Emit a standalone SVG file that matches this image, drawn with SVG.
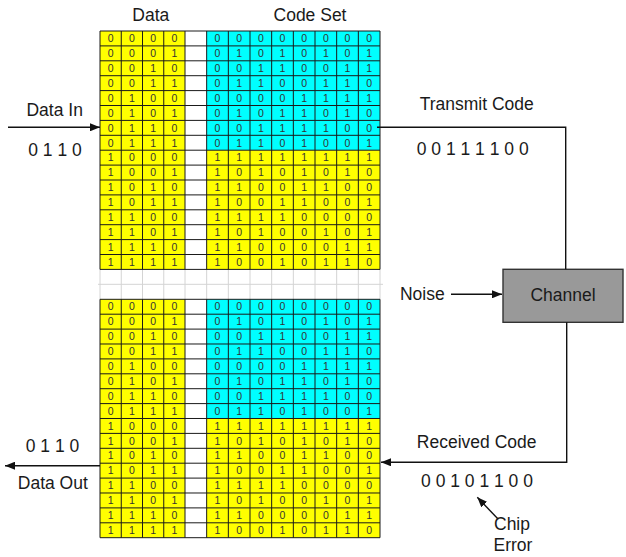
<svg xmlns="http://www.w3.org/2000/svg" width="626" height="557" viewBox="0 0 626 557">
<defs>
<style>
.lbl{font-family:"Liberation Sans",Arial,sans-serif;font-size:17.5px;fill:#1a1a1a}
.mid{text-anchor:middle}
.d{font-family:"Liberation Sans",Arial,sans-serif;font-size:10.5px;fill:#333;text-anchor:middle}
.grid{stroke:#1a1a1a;stroke-width:1;fill:none}
.lgrid{stroke:#d4d4d4;stroke-width:1;fill:none}
.wire{stroke:#111;stroke-width:1.4;fill:none}
.yel{fill:#ffff00}
.cya{fill:#00ffff}
</style>
<marker id="ah" viewBox="0 0 10 8" refX="10" refY="4" markerWidth="10" markerHeight="8" markerUnits="userSpaceOnUse" orient="auto">
<path d="M0,0 L10,4 L0,8 z" fill="#111"/>
</marker>
</defs>
<rect width="626" height="557" fill="#fff"/>

<text class="lbl mid" x="150.8" y="20.7">Data</text>
<text class="lbl mid" x="310" y="20.7">Code Set</text>

<g id="gapgrid">
<path class="lgrid" d="M98 284.3H383 M100 269.4V299.3 M121.25 269.4V299.3 M142.5 269.4V299.3 M163.75 269.4V299.3 M185 269.4V299.3 M206.67 269.4V299.3 M228.33 269.4V299.3 M250 269.4V299.3 M271.67 269.4V299.3 M293.33 269.4V299.3 M315 269.4V299.3 M336.67 269.4V299.3 M358.33 269.4V299.3 M380 269.4V299.3"/>
</g>

<g id="table-top">
<rect class="yel" x="100" y="31" width="85" height="238.4"/>
<rect class="cya" x="206.67" y="31" width="173.33" height="119.2"/>
<rect class="yel" x="206.67" y="150.2" width="173.33" height="119.2"/>
<path class="grid" d="M100 31H380M100 45.9H380M100 60.8H380M100 75.7H380M100 90.6H380M100 105.5H380M100 120.4H380M100 135.3H380M100 150.2H380M100 165.1H380M100 180H380M100 194.9H380M100 209.8H380M100 224.7H380M100 239.6H380M100 254.5H380M100 269.4H380 M100 31V269.4M121.25 31V269.4M142.5 31V269.4M163.75 31V269.4M185 31V269.4M206.67 31V269.4M228.33 31V269.4M250 31V269.4M271.67 31V269.4M293.33 31V269.4M315 31V269.4M336.67 31V269.4M358.33 31V269.4M380 31V269.4"/>
<text class="d" y="42.2" x="110.6 131.9 153.1 174.4 217.5 239.2 260.8 282.5 304.2 325.8 347.5 369.2">000000000000</text>
<text class="d" y="57.1" x="110.6 131.9 153.1 174.4 217.5 239.2 260.8 282.5 304.2 325.8 347.5 369.2">000101010101</text>
<text class="d" y="72" x="110.6 131.9 153.1 174.4 217.5 239.2 260.8 282.5 304.2 325.8 347.5 369.2">001000110011</text>
<text class="d" y="86.9" x="110.6 131.9 153.1 174.4 217.5 239.2 260.8 282.5 304.2 325.8 347.5 369.2">001101100110</text>
<text class="d" y="101.8" x="110.6 131.9 153.1 174.4 217.5 239.2 260.8 282.5 304.2 325.8 347.5 369.2">010000001111</text>
<text class="d" y="116.7" x="110.6 131.9 153.1 174.4 217.5 239.2 260.8 282.5 304.2 325.8 347.5 369.2">010101011010</text>
<text class="d" y="131.6" x="110.6 131.9 153.1 174.4 217.5 239.2 260.8 282.5 304.2 325.8 347.5 369.2">011000111100</text>
<text class="d" y="146.5" x="110.6 131.9 153.1 174.4 217.5 239.2 260.8 282.5 304.2 325.8 347.5 369.2">011101101001</text>
<text class="d" y="161.4" x="110.6 131.9 153.1 174.4 217.5 239.2 260.8 282.5 304.2 325.8 347.5 369.2">100011111111</text>
<text class="d" y="176.3" x="110.6 131.9 153.1 174.4 217.5 239.2 260.8 282.5 304.2 325.8 347.5 369.2">100110101010</text>
<text class="d" y="191.2" x="110.6 131.9 153.1 174.4 217.5 239.2 260.8 282.5 304.2 325.8 347.5 369.2">101011001100</text>
<text class="d" y="206.1" x="110.6 131.9 153.1 174.4 217.5 239.2 260.8 282.5 304.2 325.8 347.5 369.2">101110011001</text>
<text class="d" y="221" x="110.6 131.9 153.1 174.4 217.5 239.2 260.8 282.5 304.2 325.8 347.5 369.2">110011110000</text>
<text class="d" y="235.9" x="110.6 131.9 153.1 174.4 217.5 239.2 260.8 282.5 304.2 325.8 347.5 369.2">110110100101</text>
<text class="d" y="250.8" x="110.6 131.9 153.1 174.4 217.5 239.2 260.8 282.5 304.2 325.8 347.5 369.2">111011000011</text>
<text class="d" y="265.7" x="110.6 131.9 153.1 174.4 217.5 239.2 260.8 282.5 304.2 325.8 347.5 369.2">111110010110</text>
</g>

<g id="table-bottom" transform="translate(0,268.3)">
<rect class="yel" x="100" y="31" width="85" height="238.4"/>
<rect class="cya" x="206.67" y="31" width="173.33" height="119.2"/>
<rect class="yel" x="206.67" y="150.2" width="173.33" height="119.2"/>
<path class="grid" d="M100 31H380M100 45.9H380M100 60.8H380M100 75.7H380M100 90.6H380M100 105.5H380M100 120.4H380M100 135.3H380M100 150.2H380M100 165.1H380M100 180H380M100 194.9H380M100 209.8H380M100 224.7H380M100 239.6H380M100 254.5H380M100 269.4H380 M100 31V269.4M121.25 31V269.4M142.5 31V269.4M163.75 31V269.4M185 31V269.4M206.67 31V269.4M228.33 31V269.4M250 31V269.4M271.67 31V269.4M293.33 31V269.4M315 31V269.4M336.67 31V269.4M358.33 31V269.4M380 31V269.4"/>
<text class="d" y="42.2" x="110.6 131.9 153.1 174.4 217.5 239.2 260.8 282.5 304.2 325.8 347.5 369.2">000000000000</text>
<text class="d" y="57.1" x="110.6 131.9 153.1 174.4 217.5 239.2 260.8 282.5 304.2 325.8 347.5 369.2">000101010101</text>
<text class="d" y="72" x="110.6 131.9 153.1 174.4 217.5 239.2 260.8 282.5 304.2 325.8 347.5 369.2">001000110011</text>
<text class="d" y="86.9" x="110.6 131.9 153.1 174.4 217.5 239.2 260.8 282.5 304.2 325.8 347.5 369.2">001101100110</text>
<text class="d" y="101.8" x="110.6 131.9 153.1 174.4 217.5 239.2 260.8 282.5 304.2 325.8 347.5 369.2">010000001111</text>
<text class="d" y="116.7" x="110.6 131.9 153.1 174.4 217.5 239.2 260.8 282.5 304.2 325.8 347.5 369.2">010101011010</text>
<text class="d" y="131.6" x="110.6 131.9 153.1 174.4 217.5 239.2 260.8 282.5 304.2 325.8 347.5 369.2">011000111100</text>
<text class="d" y="146.5" x="110.6 131.9 153.1 174.4 217.5 239.2 260.8 282.5 304.2 325.8 347.5 369.2">011101101001</text>
<text class="d" y="161.4" x="110.6 131.9 153.1 174.4 217.5 239.2 260.8 282.5 304.2 325.8 347.5 369.2">100011111111</text>
<text class="d" y="176.3" x="110.6 131.9 153.1 174.4 217.5 239.2 260.8 282.5 304.2 325.8 347.5 369.2">100110101010</text>
<text class="d" y="191.2" x="110.6 131.9 153.1 174.4 217.5 239.2 260.8 282.5 304.2 325.8 347.5 369.2">101011001100</text>
<text class="d" y="206.1" x="110.6 131.9 153.1 174.4 217.5 239.2 260.8 282.5 304.2 325.8 347.5 369.2">101110011001</text>
<text class="d" y="221" x="110.6 131.9 153.1 174.4 217.5 239.2 260.8 282.5 304.2 325.8 347.5 369.2">110011110000</text>
<text class="d" y="235.9" x="110.6 131.9 153.1 174.4 217.5 239.2 260.8 282.5 304.2 325.8 347.5 369.2">110110100101</text>
<text class="d" y="250.8" x="110.6 131.9 153.1 174.4 217.5 239.2 260.8 282.5 304.2 325.8 347.5 369.2">111011000011</text>
<text class="d" y="265.7" x="110.6 131.9 153.1 174.4 217.5 239.2 260.8 282.5 304.2 325.8 347.5 369.2">111110010110</text>
</g>

<g id="channel">
<rect x="503" y="269.3" width="120" height="53" fill="#999999" stroke="#333" stroke-width="1.4"/>
<text class="lbl mid" x="563" y="301">Channel</text>
</g>

<g id="connectors">
<path class="wire" d="M8 127.3H100" marker-end="url(#ah)"/>
<path class="wire" d="M377 127.3H565.7V269.3"/>
<path class="wire" d="M451 294.3H502" marker-end="url(#ah)"/>
<path class="wire" d="M566.7 322.3V462.3H381" marker-end="url(#ah)"/>
<path class="wire" d="M100 465.7H5" marker-end="url(#ah)"/>
<path class="wire" d="M498.3 519.3L477.3 497.3" marker-end="url(#ah)"/>
</g>

<g id="labels">
<text class="lbl mid" x="54.7" y="116">Data In</text>
<text class="lbl mid" x="55" y="156">0 1 1 0</text>
<text class="lbl mid" x="476.7" y="110">Transmit Code</text>
<text class="lbl mid" x="472.7" y="155">0 0 1 1 1 1 0 0</text>
<text class="lbl mid" x="422.3" y="299.5">Noise</text>
<text class="lbl mid" x="476.7" y="448.3">Received Code</text>
<text class="lbl mid" x="477" y="486.7">0 0 1 0 1 1 0 0</text>
<text class="lbl mid" x="512" y="530">Chip</text>
<text class="lbl mid" x="513" y="550.7">Error</text>
<text class="lbl mid" x="52.5" y="452.3">0 1 1 0</text>
<text class="lbl mid" x="52.8" y="489.3">Data Out</text>
</g>
</svg>
